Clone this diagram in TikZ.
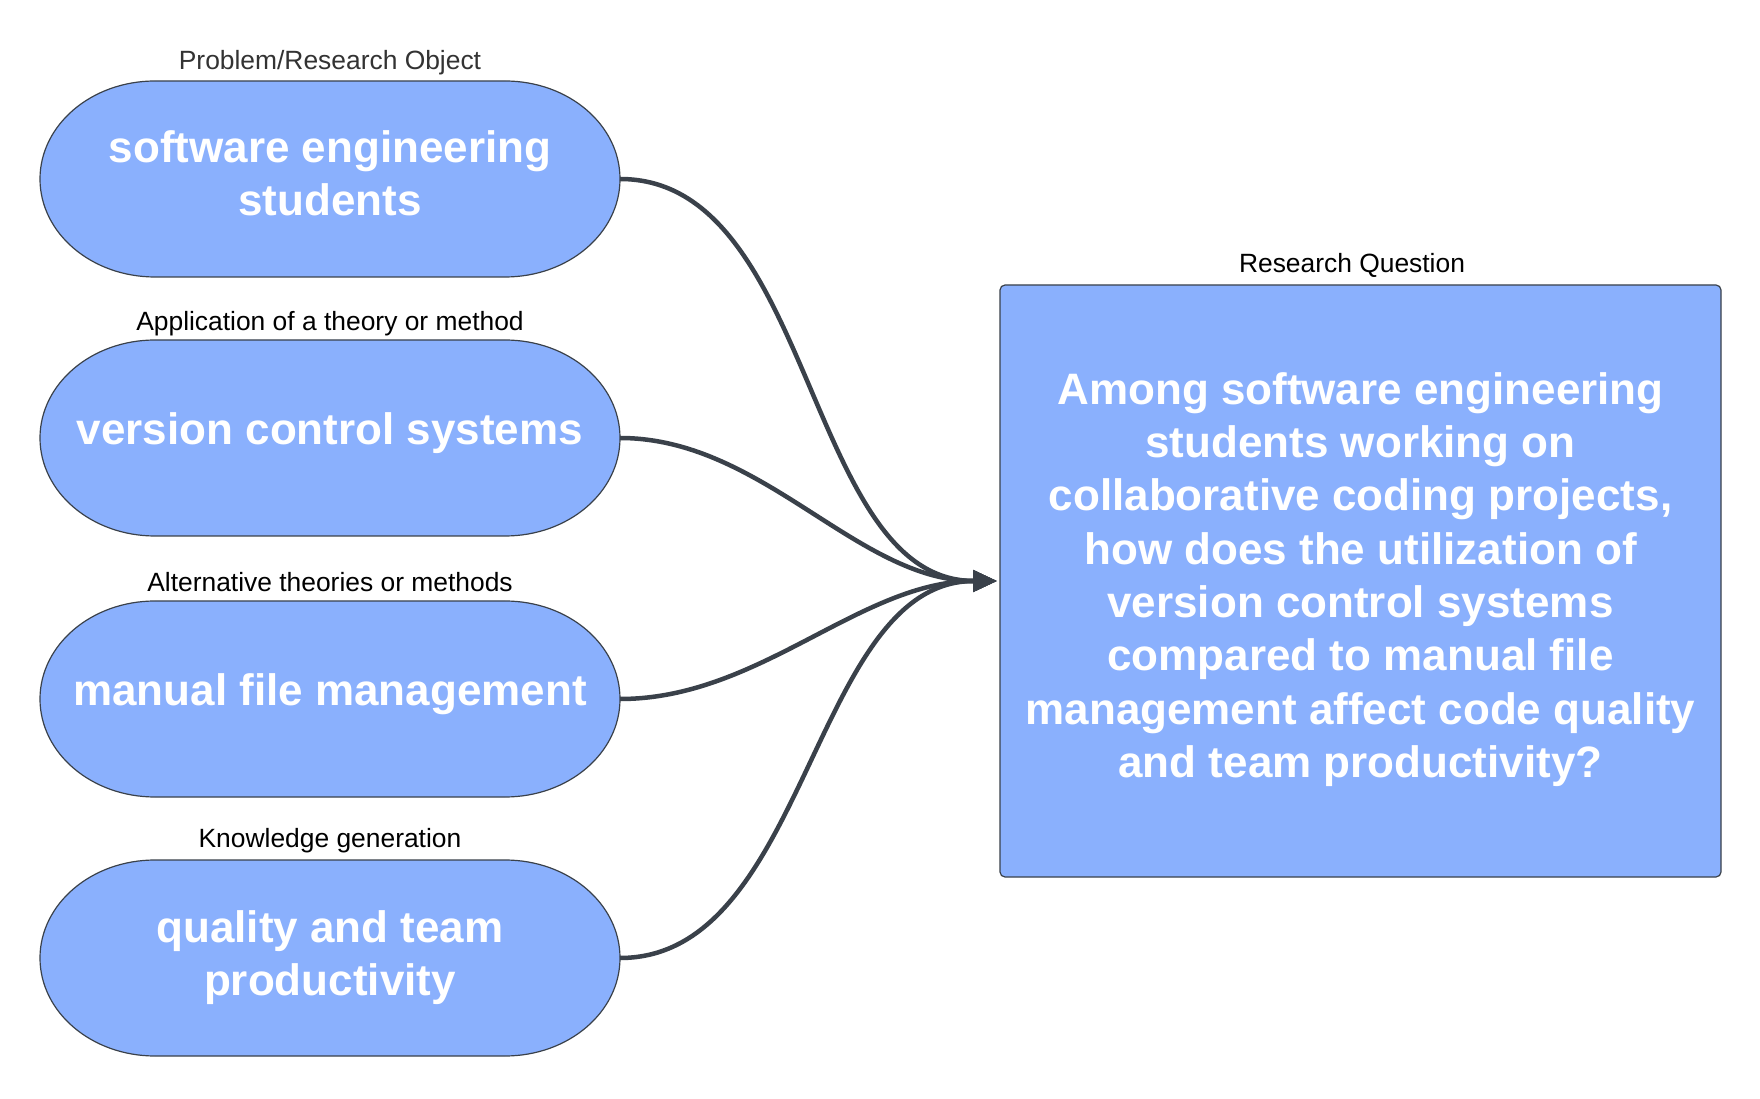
\documentclass[tikz,border=0pt]{standalone}
\usepackage{fontspec}
\setmainfont{Liberation Sans}
\usetikzlibrary{arrows.meta}
\definecolor{fillblue}{HTML}{8AB0FD}
\definecolor{edgegray}{HTML}{3A414A}
\definecolor{lblgray}{HTML}{333333}
\begin{document}
\begin{tikzpicture}[x=1pt,y=1pt,
  anchorbox/.style={minimum width=580pt,minimum height=196pt,inner sep=0pt,outer sep=0pt},
  stad/.style={fill=fillblue,draw=edgegray,line width=1.2pt},
  qbox/.style={fill=fillblue,draw=edgegray,line width=1.2pt,rounded corners=5pt,minimum width=721pt,minimum height=592pt,inner sep=0pt,outer sep=0pt},
  bigtext/.style={text=white,font=\fontsize{44}{53.3}\selectfont\bfseries,align=center,inner sep=0pt},
  lbl/.style={font=\fontsize{26.4}{30}\selectfont,text=black,inner sep=0pt},
  conn/.style={draw=edgegray,line width=4.5pt,-{Triangle[length=24pt,width=21pt]},out=0,in=180,looseness=0.9,shorten >=3pt}]
\useasboundingbox (0,0) rectangle (1760,1098);
\fill[white] (0,0) rectangle (1760,1098);

\foreach \n/\y in {s1/919, s2/660, s3/399, s4/140}{
  \node[anchorbox] (\n) at (330,\y) {};
  \draw[stad] ([xshift=115pt]\n.north west) -- ([xshift=-115pt]\n.north east)
    arc[start angle=90,end angle=-90,x radius=115pt,y radius=98pt]
    -- ([xshift=115pt]\n.south west)
    arc[start angle=270,end angle=90,x radius=115pt,y radius=98pt] -- cycle;
}

\node[bigtext] (t1) at (330,925) {software engineering\\students};
\node[bigtext] (t2) at (330,664.5) {version control systems};
\node[bigtext] (t3) at (330,403.5) {manual file management};
\node[bigtext] (t4) at (330,140.5) {quality and team\\productivity};

\node[lbl,text=lblgray] (l1) at (330,1035.5) {Problem/Research Object};
\node[lbl] (l2) at (330,774.5) {Application of a theory or method};
\node[lbl] (l3) at (330,516) {Alternative theories or methods};
\node[lbl] (l4) at (330,257.5) {Knowledge generation};

\node[qbox] (q) at (1360.5,517) {};
\node[lbl] (lq) at (1352,833) {Research Question};
\node[bigtext] (qt) at (1360.5,518.5) {Among software engineering\\students working on\\collaborative coding projects,\\how does the utilization of\\version control systems\\compared to manual file\\management affect code quality\\and team productivity?};

\draw[conn] (s1.east) to (q.west);
\draw[conn] (s2.east) to (q.west);
\draw[conn] (s3.east) to (q.west);
\draw[conn] (s4.east) to (q.west);
\end{tikzpicture}
\end{document}
